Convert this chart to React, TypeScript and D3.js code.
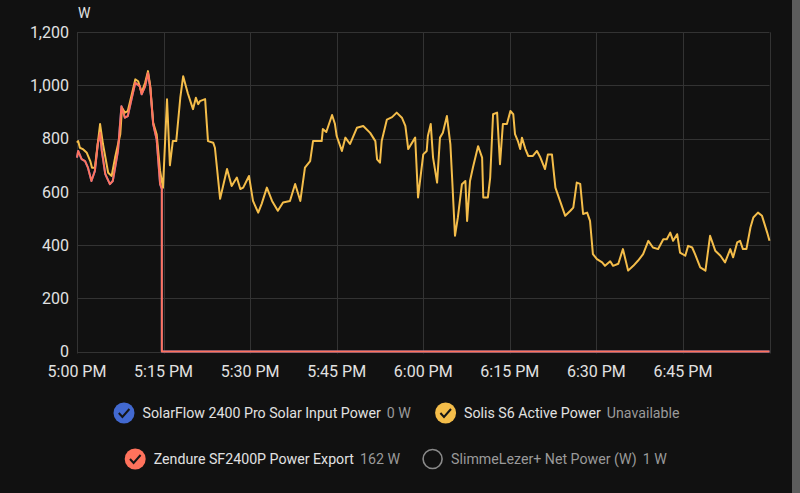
import React, { useRef, useEffect } from "react";
import * as d3 from "d3";

// minutes after 5:00 PM and watts
const solisMinutes = [
  0, 0.2, 0.5, 1.0, 1.7, 2.3, 2.6, 3.1, 4.0, 4.5, 5.4, 6.0, 6.6, 7.5, 7.8, 8.3, 8.8, 9.5, 10.1, 10.6,
  11.2, 11.8, 12.3, 12.7, 13.2, 13.8, 14.4, 14.9, 15.6, 16.1, 16.6, 17.2, 17.9, 18.4, 19.2, 20.1, 20.6,
  21.0, 21.3, 22.2, 22.7, 23.6, 23.9, 24.8, 26.0, 26.8, 27.7, 28.3, 28.8, 29.8, 30.5, 31.4, 32.0, 32.9,
  33.8, 34.8, 35.7, 36.9, 37.8, 38.7, 39.5, 40.4, 40.9, 42.4, 42.6, 43.2, 44.2, 44.7, 45.0, 45.9, 46.5,
  47.3, 48.5, 49.6, 50.8, 51.7, 52.0, 52.5, 52.8, 53.7, 54.6, 55.4, 56.3, 56.9, 57.4, 58.6, 59.1, 60.0,
  60.6, 60.8, 61.3, 61.7, 62.4, 62.9, 63.4, 64.1, 64.7, 65.0, 65.5, 66.0, 66.7, 67.3, 67.6, 68.1, 68.6,
  69.5, 70.2, 70.4, 71.2, 71.6, 72.1, 72.8, 73.3, 73.8, 74.5, 75.1, 75.6, 75.9, 76.4, 76.8, 77.1, 77.7,
  78.2, 79.0, 79.7, 80.3, 81.1, 81.6, 82.3, 82.9, 83.7, 84.6, 85.5, 86.0, 86.6, 87.2, 87.7, 88.4, 88.9,
  89.4, 90.1, 91.0, 91.5, 92.4, 92.9, 93.8, 94.6, 95.5, 96.4, 97.2, 98.1, 99.0, 99.8, 100.7, 101.6,
  102.2, 102.8, 103.3, 104.0, 104.5, 105.4, 105.9, 106.6, 107.1, 108.0, 108.9, 109.7, 110.6, 111.5,
  112.3, 113.2, 113.7, 114.4, 114.9, 115.4, 116.0, 116.7, 117.2, 118.0, 118.7, 119.6, 120,
];
const solisWatts = [
  785, 791, 766, 761, 747, 716, 691, 691, 855, 780, 672, 660, 729, 817, 916, 898, 904, 967, 1023, 1016,
  973, 1010, 1054, 997, 860, 817, 679, 616, 948, 700, 791, 791, 954, 1035, 971, 911, 954,
  930, 941, 949, 791, 785, 766, 574, 686, 622, 654, 611, 616, 660, 566, 522, 555, 616,
  566, 529, 560, 566, 630, 566, 691, 716, 791, 791, 836, 825, 889, 855, 810, 754, 804,
  780, 841, 848, 822, 791, 722, 710, 791, 872, 881, 898, 879, 848, 761, 804, 579, 741,
  754, 810, 855, 729, 635, 804, 822, 885, 780, 654, 435, 504, 629, 641, 491, 641, 691,
  772, 729, 579, 579, 654, 892, 898, 704, 855, 855, 904, 892, 817, 791, 761, 804, 761,
  735, 735, 754, 729, 686, 741, 741, 616, 566, 510, 529, 541, 635, 630, 517, 522, 491,
  366, 347, 335, 322, 339, 322, 330, 385, 304, 322, 341, 366, 416, 391, 385, 422,
  422, 447, 416, 441, 372, 360, 397, 391, 366, 316, 304, 435, 379, 360,
  335, 385, 354, 410, 416, 385, 385, 466, 504, 522, 510, 447, 416,
];

const zendureMinutes = [
  0, 0.2, 0.8, 1.4, 1.9, 2.5, 3.1, 3.6, 4.0, 4.3, 4.9, 5.7, 6.2, 7.1, 7.7, 8.3, 8.8, 9.5, 10.1, 10.9,
  11.2, 11.8, 12.3, 12.7, 13.2, 13.8, 14.4, 14.7, 14.7, 120,
];
const zendureWatts = [
  729, 754, 723, 716, 691, 641, 679, 780, 822, 754, 667, 629, 641, 754, 922, 879, 885, 954, 1010, 997,
  967, 997, 1047, 991, 855, 798, 629, 611, 0, 0,
];

// SolarFlow follows the export line, hidden underneath it
const solarFlowMinutes = zendureMinutes;
const solarFlowWatts = zendureWatts;

const yTicks = [0, 200, 400, 600, 800, 1000, 1200];
const xTickMinutes = [0, 15, 30, 45, 60, 75, 90, 105];
const xGridMinutes = [0, 15, 30, 45, 60, 75, 90, 105, 120];

const legendRow1 = [
  { name: "SolarFlow 2400 Pro Solar Input Power", value: "0 W", color: "#4269d0", on: true },
  { name: "Solis S6 Active Power", value: "Unavailable", color: "#f4bd4a", on: true },
];
const legendRow2 = [
  { name: "Zendure SF2400P Power Export", value: "162 W", color: "#ff725c", on: true },
  { name: "SlimmeLezer+ Net Power (W)", value: "1 W", color: "#8a8a8a", on: false },
];

const W = 800;
const H = 493;
const start = new Date(2025, 5, 1, 17, 0);
const toDate = (m: number) => new Date(start.getTime() + m * 60000);

const App = () => {
  const ref: any = useRef();

  useEffect(() => {
    const svg = d3.select(ref.current);
    svg.selectAll("*").remove();
    const font = "Roboto, 'Noto Sans', sans-serif";

    svg.append("rect").attr("width", W).attr("height", H).attr("fill", "#111111");
    // scrollbar strip on the right
    svg.append("rect").attr("x", 792).attr("width", 8).attr("height", H).attr("fill", "#5c5c5c");

    const x = d3
      .scaleTime()
      .domain([toDate(0), toDate(120)])
      .range([77, 769.5]);
    const y = d3.scaleLinear().domain([0, 1200]).range([351.5, 32.3]);

    // grid
    svg
      .append("g")
      .selectAll("line")
      .data(yTicks)
      .enter()
      .append("line")
      .attr("x1", 77)
      .attr("x2", 769.5)
      .attr("y1", (d: any) => Math.round(y(d)) + 0.5)
      .attr("y2", (d: any) => Math.round(y(d)) + 0.5)
      .attr("stroke", "#333333");

    svg
      .append("g")
      .selectAll("line")
      .data(xGridMinutes)
      .enter()
      .append("line")
      .attr("x1", (d: any) => Math.round(x(toDate(d))) + 0.5)
      .attr("x2", (d: any) => Math.round(x(toDate(d))) + 0.5)
      .attr("y1", y(1200))
      .attr("y2", y(0) + 2)
      .attr("stroke", "#333333");

    // y labels
    svg
      .append("g")
      .selectAll("text")
      .data(yTicks)
      .enter()
      .append("text")
      .attr("x", 69)
      .attr("y", (d: any) => y(d))
      .attr("dy", "0.36em")
      .attr("text-anchor", "end")
      .attr("fill", "#e1e1e1")
      .style("font", `16px ${font}`)
      .text((d: any) => d3.format(",")(d));

    svg
      .append("text")
      .attr("x", 78)
      .attr("y", 18)
      .attr("fill", "#e1e1e1")
      .style("font", `14px ${font}`)
      .text("W");

    // x labels
    svg
      .append("g")
      .selectAll("text")
      .data(xTickMinutes)
      .enter()
      .append("text")
      .attr("x", (d: any) => x(toDate(d)))
      .attr("y", 377)
      .attr("text-anchor", "middle")
      .attr("fill", "#e1e1e1")
      .style("font", `16px ${font}`)
      .text((d: any) => d3.timeFormat("%-I:%M %p")(toDate(d)));

    const line = d3
      .line<[number, number]>()
      .x((d) => x(toDate(d[0])))
      .y((d) => y(d[1]));

    const series = [
      { m: solarFlowMinutes, w: solarFlowWatts, color: "#4269d0" },
      { m: solisMinutes, w: solisWatts, color: "#f4bd4a" },
      { m: zendureMinutes, w: zendureWatts, color: "#ff725c" },
    ];
    series.forEach((s) => {
      const pts = s.m.map((m, i) => [m, s.w[i]] as [number, number]);
      svg
        .append("path")
        .datum(pts)
        .attr("d", line)
        .attr("fill", "none")
        .attr("stroke", s.color)
        .attr("stroke-width", 2)
        .attr("stroke-linejoin", "round");
    });

    // legend
    const drawItem = (item: any, cx: number, cy: number) => {
      const g = svg.append("g");
      if (item.on) {
        g.append("circle").attr("cx", cx).attr("cy", cy).attr("r", 10.5).attr("fill", item.color);
        g.append("path")
          .attr("d", `M${cx - 5.2},${cy} L${cx - 1.6},${cy + 4} L${cx + 5.4},${cy - 4}`)
          .attr("fill", "none")
          .attr("stroke", "#161616")
          .attr("stroke-width", 2);
      } else {
        g.append("circle")
          .attr("cx", cx)
          .attr("cy", cy)
          .attr("r", 9.5)
          .attr("fill", "none")
          .attr("stroke", item.color)
          .attr("stroke-width", 1.6);
      }
      const t = g
        .append("text")
        .attr("x", cx + 18.5)
        .attr("y", cy)
        .attr("dy", "0.35em")
        .style("font", `14.2px ${font}`);
      t.append("tspan").attr("fill", item.on ? "#e1e1e1" : "#9a9a9a").text(item.name);
      t.append("tspan").attr("dx", 6).attr("fill", "#9a9a9a").text(item.value);
    };
    drawItem(legendRow1[0], 124, 413);
    drawItem(legendRow1[1], 445.6, 413);
    drawItem(legendRow2[0], 135.2, 459);
    drawItem(legendRow2[1], 432.6, 459);
  }, []);

  return (
    <svg
      ref={ref}
      width={W}
      height={H}
      style={{ position: "fixed", top: 0, left: 0, display: "block" }}
    ></svg>
  );
};

export default App;
